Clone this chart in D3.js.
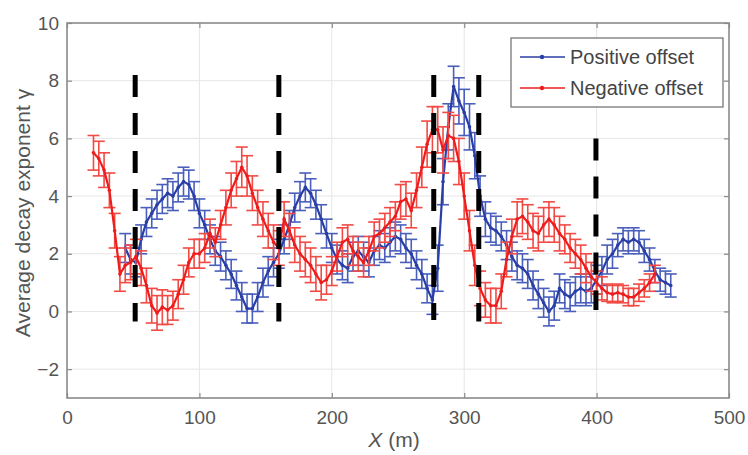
<!DOCTYPE html>
<html><head><meta charset="utf-8">
<script src="https://cdn.jsdelivr.net/npm/d3@7"></script>
<style>body{margin:0;background:#fff}svg{display:block}text{font-family:"Liberation Sans",Arial,sans-serif}</style>
</head><body><svg id="c" width="748" height="455"></svg>
<script>
const redX = [20,24,28,32,36,40,44,48,52,56,60,64,68,72,76,80,84,88,92,96,100,104,108,112,116,120,124,128,132,136,140,144,148,152,156,160,164,168,172,176,180,184,188,192,196,200,204,208,212,216,220,224,228,232,236,240,244,248,252,256,260,264,268,272,276,280,284,288,292,296,300,304,308,312,316,320,324,328,332,336,340,344,348,352,356,360,364,368,372,376,380,384,388,392,396,400,404,408,412,416,420,424,428,432,436,440,444];
const redY = [5.5,5.3,4.9,4.2,2.8,1.3,1.6,1.7,1.9,1.5,0.9,0.2,-0.05,0.15,0.05,0.2,0.6,1.1,1.7,2.0,2.0,2.2,2.7,2.4,3.0,3.6,4.2,4.6,5.0,4.7,4.1,3.6,3.2,2.8,2.4,2.2,3.2,2.8,2.3,2.0,1.8,1.6,1.3,1.0,1.1,1.4,1.9,2.4,2.5,2.1,1.9,1.7,2.1,2.6,2.7,2.9,3.1,3.3,3.8,3.9,3.5,4.2,5.0,5.8,6.3,6.3,5.6,6.1,6.0,5.2,4.0,2.8,1.6,0.8,0.4,0.2,0.2,0.7,1.8,2.6,3.2,3.3,3.1,2.8,2.7,3.0,3.2,3.0,2.7,2.5,2.2,2.0,1.8,1.5,1.2,1.0,0.8,0.65,0.6,0.65,0.6,0.5,0.5,0.65,0.8,1.0,1.3];
const redErr = [0.6,0.6,0.6,0.6,0.6,0.6,0.6,0.6,0.6,0.6,0.6,0.6,0.6,0.6,0.5,0.5,0.5,0.5,0.5,0.5,0.5,0.5,0.5,0.5,0.5,0.6,0.6,0.6,0.7,0.7,0.6,0.6,0.6,0.6,0.6,0.6,0.6,0.6,0.6,0.6,0.6,0.6,0.6,0.6,0.5,0.5,0.5,0.5,0.5,0.5,0.5,0.5,0.5,0.5,0.5,0.5,0.5,0.5,0.6,0.6,0.6,0.6,0.7,0.8,0.8,0.8,0.8,0.8,0.8,0.8,0.8,0.7,0.7,0.6,0.6,0.6,0.6,0.6,0.6,0.6,0.6,0.6,0.6,0.6,0.6,0.6,0.6,0.6,0.6,0.5,0.5,0.5,0.5,0.5,0.5,0.4,0.4,0.3,0.3,0.3,0.3,0.3,0.3,0.3,0.3,0.3,0.3];
const blueX = [44,48,52,56,60,64,68,72,76,80,84,88,92,96,100,104,108,112,116,120,124,128,132,136,140,144,148,152,156,160,164,168,172,176,180,184,188,192,196,200,204,208,212,216,220,224,228,232,236,240,244,248,252,256,260,264,268,272,276,280,284,288,292,296,300,304,308,312,316,320,324,328,332,336,340,344,348,352,356,360,364,368,372,376,380,384,388,392,396,400,404,408,412,416,420,424,428,432,436,440,444,448,452,456];
const blueY = [2.2,1.8,1.7,2.5,3.1,3.4,3.7,3.9,4.1,4.0,4.3,4.5,4.4,4.0,3.4,3.0,2.5,2.1,1.9,1.6,1.3,0.9,0.5,0.1,0.1,0.5,1.0,1.4,1.7,2.0,2.5,3.0,3.6,4.0,4.3,4.1,3.7,3.2,2.7,2.2,1.8,1.6,1.5,1.9,2.1,1.9,1.7,2.1,2.3,2.2,2.4,2.6,2.5,2.2,2.0,1.6,1.3,0.8,0.4,1.5,4.5,6.4,7.8,7.3,6.9,6.4,5.4,4.0,3.2,2.9,2.8,2.6,2.3,1.9,1.6,1.5,1.3,0.9,0.6,0.3,0.0,0.2,0.8,0.6,0.5,0.7,0.8,0.7,0.8,1.1,1.4,1.8,2.0,2.3,2.5,2.4,2.5,2.4,2.1,1.8,1.4,1.1,1.0,0.9];
const blueErr = [0.5,0.5,0.5,0.5,0.5,0.5,0.5,0.5,0.5,0.5,0.5,0.5,0.5,0.5,0.5,0.5,0.5,0.5,0.5,0.5,0.5,0.5,0.5,0.5,0.5,0.5,0.5,0.5,0.5,0.5,0.5,0.5,0.5,0.5,0.5,0.5,0.5,0.5,0.5,0.5,0.5,0.5,0.5,0.5,0.5,0.5,0.5,0.5,0.5,0.5,0.5,0.5,0.5,0.5,0.5,0.5,0.5,0.5,0.5,0.8,0.8,0.8,0.7,0.8,0.8,0.8,0.8,0.7,0.6,0.5,0.5,0.5,0.5,0.5,0.5,0.5,0.5,0.5,0.5,0.5,0.5,0.5,0.5,0.5,0.5,0.5,0.5,0.5,0.5,0.5,0.5,0.5,0.5,0.4,0.4,0.4,0.4,0.4,0.4,0.4,0.4,0.4,0.4,0.4];
const markerX = [51.5, 160, 277, 311, 399.5];
const markerTop = [8.2, 8.2, 8.2, 8.2, 6.0];
const markerBottom = [-0.35, -0.35, -0.3, -0.35, 0.05];
const xTicks = [0,100,200,300,400,500];
const yTicks = [-2,0,2,4,6,8,10];
const seriesNames = ["Positive offset","Negative offset"];

const svg = d3.select("#c");
const L=67, R=729, T=23, B=398;
const x = d3.scaleLinear().domain([0,500]).range([L,R]);
const y = d3.scaleLinear().domain([-3,10]).range([B,T]);
const axisCol="#8a8a8a", textCol="#555";

// grid
svg.append("g").selectAll("line").data(xTicks.slice(1,-1)).join("line")
  .attr("x1",d=>x(d)).attr("x2",d=>x(d)).attr("y1",T).attr("y2",B)
  .attr("stroke","#e6e6e6").attr("stroke-width",1);
svg.append("g").selectAll("line").data(yTicks.slice(0,-1)).join("line")
  .attr("y1",d=>y(d)).attr("y2",d=>y(d)).attr("x1",L).attr("x2",R)
  .attr("stroke","#e6e6e6").attr("stroke-width",1);

function drawSeries(xs, ys, es, lineCol, barCol){
  const data = xs.map((v,i)=>({x:v,y:ys[i],e:es[i]}));
  const g = svg.append("g");
  g.selectAll("line.v").data(data).join("line").attr("class","v")
    .attr("x1",d=>x(d.x)).attr("x2",d=>x(d.x)).attr("y1",d=>y(d.y-d.e)).attr("y2",d=>y(d.y+d.e))
    .attr("stroke",barCol).attr("stroke-width",1.6);
  ["a","b"].forEach(s=>{
    g.selectAll("line.c"+s).data(data).join("line").attr("class","c"+s)
      .attr("x1",d=>x(d.x)-6).attr("x2",d=>x(d.x)+6)
      .attr("y1",d=>y(s=="a"?d.y-d.e:d.y+d.e)).attr("y2",d=>y(s=="a"?d.y-d.e:d.y+d.e))
      .attr("stroke",barCol).attr("stroke-width",1.6);
  });
  g.append("path").datum(data).attr("d",d3.line().x(d=>x(d.x)).y(d=>y(d.y)))
    .attr("fill","none").attr("stroke",lineCol).attr("stroke-width",2.2);
  g.selectAll("circle").data(data).join("circle").attr("cx",d=>x(d.x)).attr("cy",d=>y(d.y)).attr("r",1.8).attr("fill",lineCol);
}
drawSeries(blueX, blueY, blueErr, "#2a3fa6", "#4a5fbb");
drawSeries(redX, redY, redErr, "#ee1c1c", "#f24a44");

// dashed markers
svg.append("g").selectAll("line").data(markerX).join("line")
  .attr("x1",d=>x(d)).attr("x2",d=>x(d)).attr("y1",(d,i)=>y(markerTop[i])).attr("y2",(d,i)=>y(markerBottom[i]))
  .attr("stroke","#000").attr("stroke-width",5).attr("stroke-dasharray","22,16");

// axes box
svg.append("rect").attr("x",L).attr("y",T).attr("width",R-L).attr("height",B-T)
  .attr("fill","none").attr("stroke",axisCol).attr("stroke-width",1.6);
const xa = svg.append("g").attr("transform",`translate(0,${B})`)
  .call(d3.axisBottom(x).tickValues(xTicks).tickSize(-5).tickPadding(13).tickFormat(d3.format("d")));
const xt = svg.append("g").attr("transform",`translate(0,${T})`)
  .call(d3.axisTop(x).tickValues(xTicks).tickSize(-5).tickFormat(""));
const ya = svg.append("g").attr("transform",`translate(${L},0)`)
  .call(d3.axisLeft(y).tickValues(yTicks).tickSize(-5).tickPadding(8).tickFormat(d=>d<0?"\u2212"+(-d):d));
const yr = svg.append("g").attr("transform",`translate(${R},0)`)
  .call(d3.axisRight(y).tickValues(yTicks).tickSize(-5).tickFormat(""));
[xa,xt,ya,yr].forEach(a=>{a.select(".domain").remove();a.selectAll(".tick line").attr("stroke",axisCol).attr("stroke-width",1.2);
  a.selectAll("text").attr("fill",textCol).style("font-size","19px");});

// labels
svg.append("text").attr("transform","translate(23,213) rotate(-90)").attr("text-anchor","middle")
  .attr("dy","0.35em").attr("fill",textCol).style("font-size","21px").text("Average decay exponent  \u03b3");
const xl = svg.append("text").attr("x",394).attr("y",447).attr("text-anchor","middle").attr("fill",textCol).style("font-size","21px");
xl.append("tspan").style("font-style","italic").text("X");
xl.append("tspan").text(" (m)");

// legend
const lg = svg.append("g");
lg.append("rect").attr("x",511).attr("y",38).attr("width",212).attr("height",69).attr("fill","#fff").attr("stroke","#777").attr("stroke-width",1.3);
[["#2a3fa6",57],["#ee1c1c",88]].forEach((c,i)=>{
  lg.append("line").attr("x1",520).attr("x2",565).attr("y1",c[1]).attr("y2",c[1]).attr("stroke",c[0]).attr("stroke-width",1.6);
  lg.append("circle").attr("cx",542).attr("cy",c[1]).attr("r",2.2).attr("fill",c[0]);
  lg.append("text").attr("x",570).attr("y",c[1]+7).attr("fill","#444").style("font-size","20px").text(seriesNames[i]);
});
</script></body></html>
